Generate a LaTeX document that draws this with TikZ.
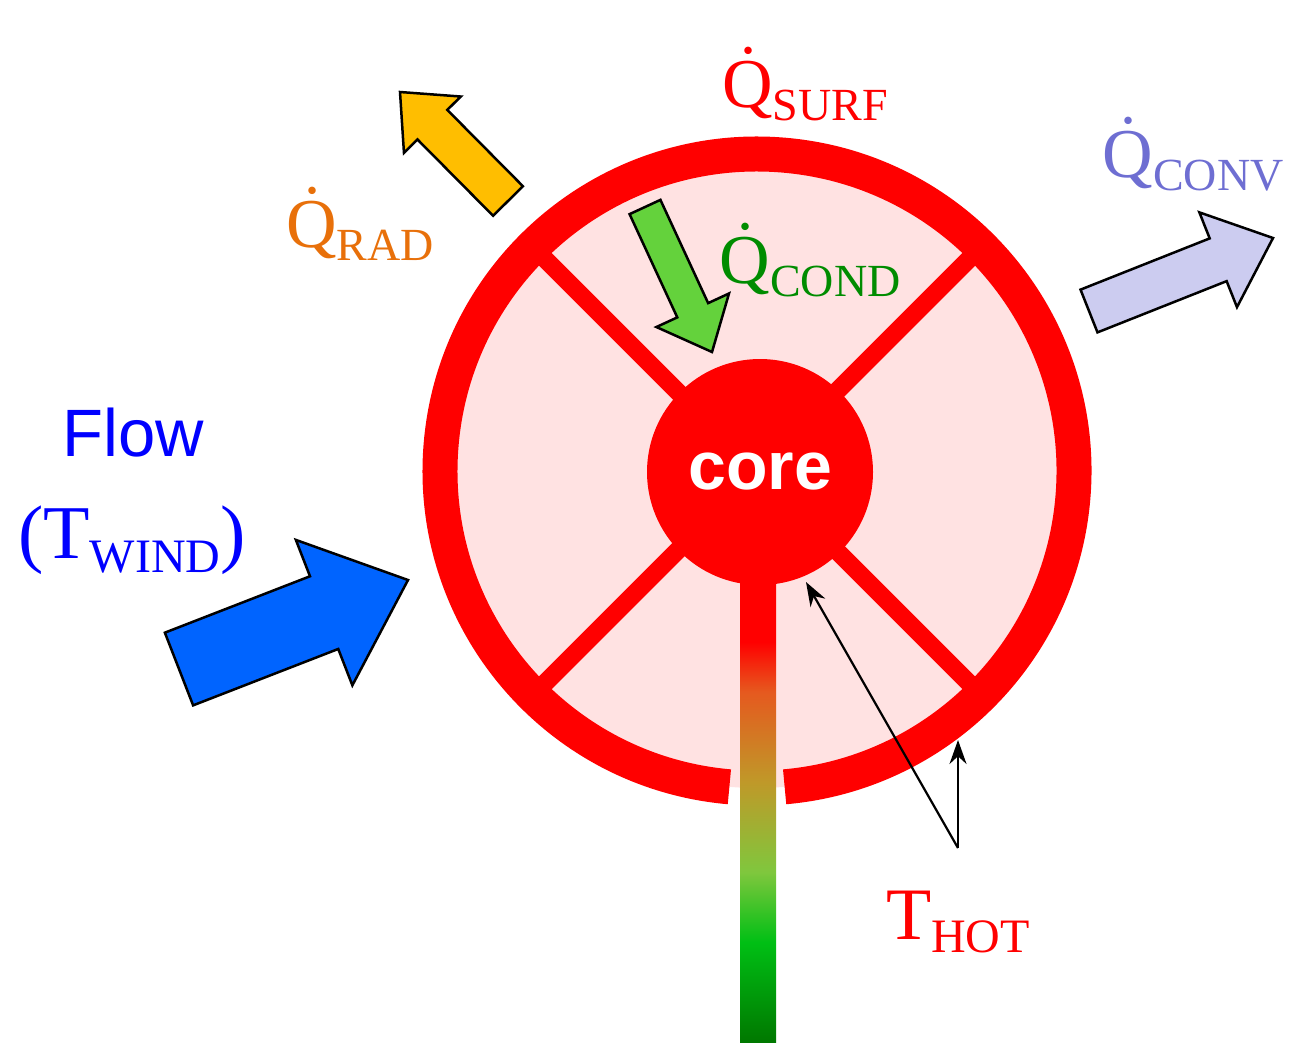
\documentclass[tikz,border=0pt]{standalone}
\usepackage{fontspec}
\setmainfont{Liberation Serif}
\newfontfamily\arial{Liberation Sans}
\usetikzlibrary{calc,arrows.meta}
\definecolor{ringred}{RGB}{255,0,0}
\definecolor{pinkfill}{RGB}{255,226,226}
\definecolor{flowblue}{RGB}{0,100,255}
\definecolor{radyel}{RGB}{255,190,0}
\definecolor{condgrn}{RGB}{100,210,60}
\definecolor{convlav}{RGB}{204,204,240}
\definecolor{radtxt}{RGB}{232,112,10}
\definecolor{condtxt}{RGB}{0,140,0}
\definecolor{convtxt}{RGB}{110,110,210}
\definecolor{txtblue}{RGB}{0,0,255}
\pgfdeclareverticalshading{stem}{100bp}{
 rgb(0bp)=(0,0.47,0);
 rgb(25bp)=(0,0.47,0);
 rgb(35.8bp)=(0,0.75,0.08);
 rgb(43.4bp)=(0.5,0.78,0.24);
 rgb(53.1bp)=(0.75,0.6,0.16);
 rgb(62.9bp)=(0.9,0.35,0.12);
 rgb(68.3bp)=(1,0,0);
 rgb(100bp)=(1,0,0)}
\newcommand{\qlab}[1]{\.{Q}\raisebox{-0.4ex}{\fontsize{46}{46}\selectfont #1}}
\newcommand{\fatarr}[6]{% tail, tip, halfshaft, halfhead, headlen, color
 \coordinate (H) at ($(#2)!#5pt!(#1)$);
 \fill[#6,draw=black,line width=2.5pt,line join=miter]
  ($(#1)!#3pt!90:(#2)$) -- ($(H)!#3pt!-90:(#1)$) -- ($(H)!#4pt!-90:(#1)$) -- (#2)
  -- ($(H)!#4pt!90:(#1)$) -- ($(H)!#3pt!90:(#1)$) -- ($(#1)!#3pt!-90:(#2)$) -- cycle;}
\begin{document}
\begin{tikzpicture}[x=1pt,y=-1pt,
  lab/.style={inner sep=0pt,font=\fontsize{70}{70}\selectfont},
  thin/.style={black,line width=2.2pt,-{Stealth[length=24pt,width=17pt]}}]
\useasboundingbox (0,0) rectangle (1297,1061);
\coordinate (c) at (757,471);
\fill[pinkfill] (c) circle[radius=317];
\foreach \a in {45,135,225,315}
  \draw[ringred,line width=18pt] ($(c)+(\a:100)$) -- ($(c)+(\a:305)$);
\draw[ringred,line width=35pt] ($(c)+(95:317)$) arc[start angle=95,end angle=445,radius=317];
\shade[shading=stem] (740,580) rectangle (776,1042);
\node[circle,fill=ringred,minimum size=226pt,inner sep=0pt] (core) at (760,472)
  {\arial\bfseries\fontsize{68}{68}\selectfont\color{white}core};
% fat arrows
\coordinate (ft) at (179,669); \coordinate (fp) at (408,580);
\fatarr{ft}{fp}{39}{78}{90}{flowblue}
\coordinate (rt) at (508,201); \coordinate (rp) at (400,92);
\fatarr{rt}{rp}{21}{40}{46}{radyel}
\coordinate (ct) at (645,207); \coordinate (cp) at (712,352);
\fatarr{ct}{cp}{17}{40}{46}{condgrn}
\coordinate (vt) at (1089,311); \coordinate (vp) at (1273,238);
\fatarr{vt}{vp}{23}{51}{59}{convlav}
% labels
\node[lab,text=ringred] (qs) at (805,84) {\qlab{SURF}};
\node[lab,text=radtxt] (qr) at (360,224) {\qlab{RAD}};
\node[lab,text=condtxt] (qc) at (810,260) {\qlab{COND}};
\node[lab,text=convtxt] (qv) at (1193,154) {\qlab{CONV}};
\node[lab,text=txtblue,font=\arial\fontsize{67}{67}\selectfont] (flow) at (133,433) {Flow};
\node[lab,text=txtblue,font=\fontsize{76}{76}\selectfont] (tw) at (132,540) {(T\raisebox{-0.4ex}{\fontsize{48}{48}\selectfont WIND})};
\node[lab,text=ringred,font=\fontsize{74}{74}\selectfont] (th) at (958,922) {T\raisebox{-0.4ex}{\fontsize{48}{48}\selectfont HOT}};
\coordinate (j) at (958,848);
\coordinate (a1) at (806,582);
\coordinate (a2) at (958,740);
\draw[thin] (j) -- (a1);
\draw[thin] (j) -- (a2);
\end{tikzpicture}
\end{document}
